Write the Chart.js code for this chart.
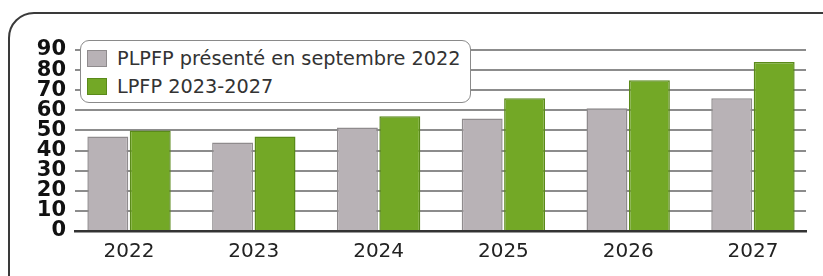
<!DOCTYPE html>
<html>
<head>
<meta charset="utf-8">
<script src="https://cdn.jsdelivr.net/npm/chart.js@4/dist/chart.umd.min.js"></script>
<style>
  html, body { margin: 0; padding: 0; background: #fff; overflow: hidden; }
  #wrap { position: relative; width: 823px; height: 276px; overflow: hidden; }
  #frame {
    position: absolute; left: 8px; top: 12px; width: 840px; height: 300px;
    border: 2px solid #3a3a3a; border-radius: 26px; box-sizing: border-box;
  }
  canvas { position: absolute; left: 0; top: 0; }
  #legend {
    position: absolute; left: 80px; top: 40px; width: 391px; height: 63px;
    box-sizing: border-box; border: 1.5px solid #8a8a8a; border-radius: 9px;
    background: #fff; font-family: "DejaVu Sans", sans-serif; font-size: 19.3px; color: #333;
    padding-top: 3px;
  }
  .item { height: 28px; display: flex; align-items: center; }
  .swatch { width: 20px; height: 17px; margin-left: 6px; margin-right: 10px; box-sizing: border-box; border: 1px solid; }
</style>
</head>
<body>
<div id="wrap">
  <div id="frame"></div>
  <canvas id="chart" width="823" height="276"></canvas>
  <div id="legend"></div>
</div>
<script>
// years on the x axis
const years = [2022, 2023, 2024, 2025, 2026, 2027];
// PLPFP présenté en septembre 2022
const plpfp = [47, 44, 51.5, 56, 61, 66];
// LPFP 2023-2027
const lpfp = [50, 47, 57, 66, 75, 84];
const yTicks = [0, 10, 20, 30, 40, 50, 60, 70, 80, 90];

const seriesNames = ['PLPFP présenté en septembre 2022', 'LPFP 2023-2027'];
const fills = ['#b8b2b6', '#73a826'];
const borders = ['#8f8b8d', '#5a8a1a'];

const ctx = document.getElementById('chart').getContext('2d');

function barFill(i) {
  return function (c) {
    const el = c.element;
    if (!el || !el.width) return fills[i];
    const g = ctx.createLinearGradient(el.x - el.width / 2, 0, el.x + el.width / 2, 0);
    if (i === 0) {
      g.addColorStop(0, '#aaa5aa');
      g.addColorStop(0.5, '#c6c0c3');
      g.addColorStop(1, '#aba6aa');
    } else {
      g.addColorStop(0, '#679c1e');
      g.addColorStop(0.5, '#7bb12c');
      g.addColorStop(1, '#689d1f');
    }
    return g;
  };
}

const chart = new Chart(ctx, {
  type: 'bar',
  data: {
    labels: years,
    datasets: [
      { label: seriesNames[0], data: plpfp, backgroundColor: barFill(0), borderColor: borders[0], borderWidth: 1.5 },
      { label: seriesNames[1], data: lpfp, backgroundColor: barFill(1), borderColor: borders[1], borderWidth: 1.5 }
    ]
  },
  options: {
    responsive: false,
    animation: false,
    layout: { padding: { left: 0, right: 17, top: 50, bottom: 0 } },
    categoryPercentage: 0.68,
    barPercentage: 0.965,
    plugins: { legend: { display: false }, tooltip: { enabled: false } },
    scales: {
      x: {
        type: 'linear',
        offset: false,
        min: years[0] - 0.433,
        max: years[years.length - 1] + 0.425,
        afterFit: s => { s.height = 45; },
        grid: { display: false, drawTicks: false, offset: false },
        border: { display: true, color: '#333', width: 2.5 },
        ticks: {
          stepSize: 1,
          includeBounds: false,
          padding: 9,
          maxRotation: 0,
          autoSkip: false,
          color: '#222',
          font: { family: 'DejaVu Sans', size: 20 },
          callback: v => String(v)
        }
      },
      y: {
        min: yTicks[0],
        max: yTicks[yTicks.length - 1],
        afterFit: s => { s.width = 75; },
        grid: {
          drawTicks: false,
          color: c => c.tick.value === 0 ? 'rgba(0,0,0,0)' : '#8c8c8c',
          lineWidth: 2
        },
        border: { display: false },
        ticks: {
          stepSize: 10,
          autoSkip: false,
          padding: 9,
          color: '#111',
          font: { family: 'DejaVu Sans', size: 21, weight: 'bold', lineHeight: 1 }
        }
      }
    }
  }
});

// legend overlay built from the chart datasets
const legend = document.getElementById('legend');
chart.data.datasets.forEach((ds, i) => {
  const item = document.createElement('div');
  item.className = 'item';
  const sw = document.createElement('span');
  sw.className = 'swatch';
  sw.style.background = fills[i];
  sw.style.borderColor = borders[i];
  const txt = document.createElement('span');
  txt.textContent = ds.label;
  item.appendChild(sw);
  item.appendChild(txt);
  legend.appendChild(item);
});
</script>
</body>
</html>
